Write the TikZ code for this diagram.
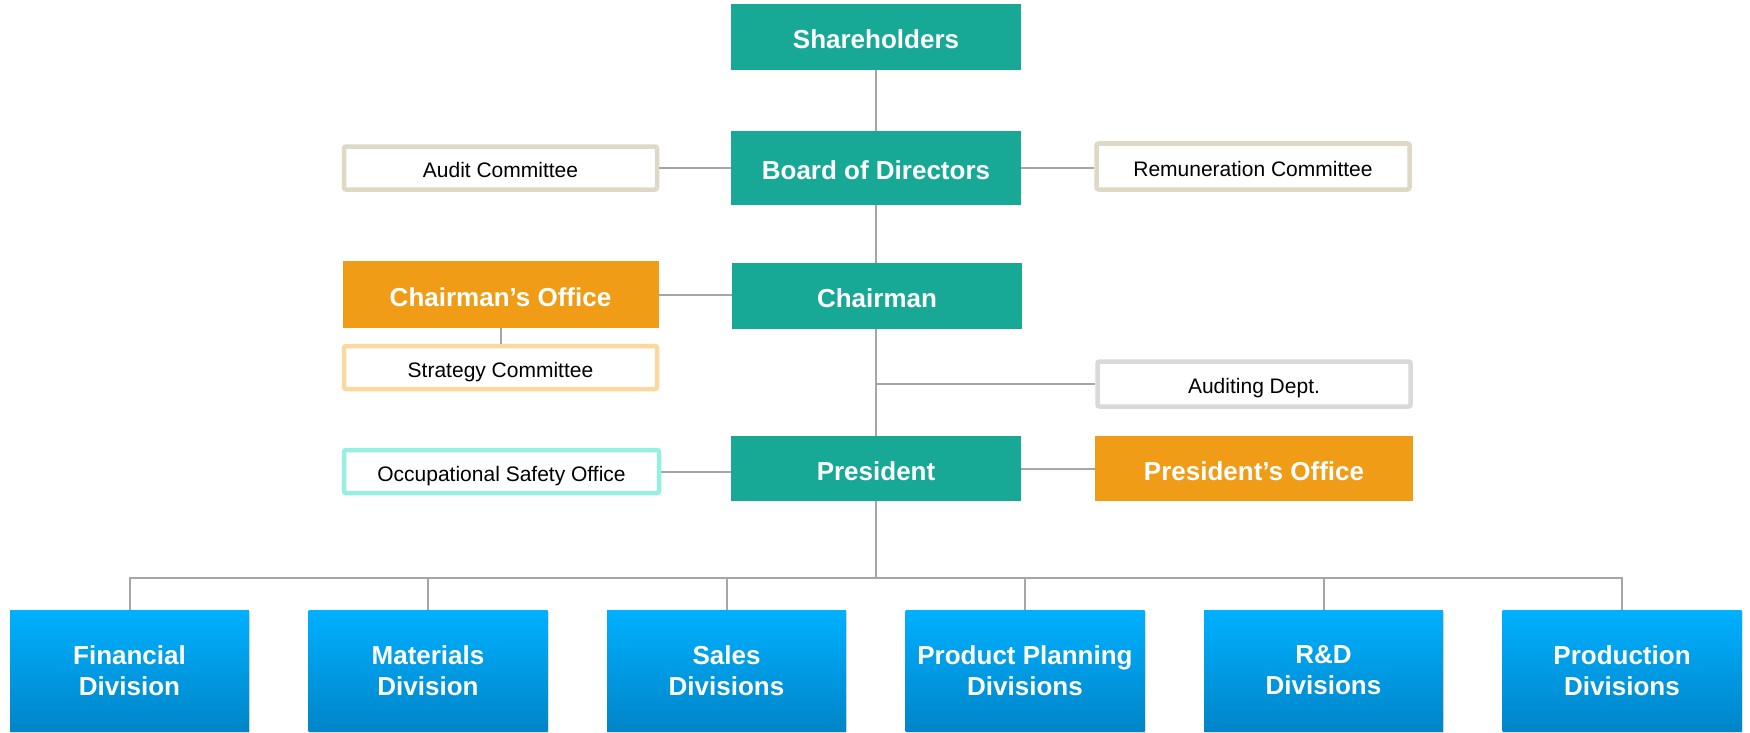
\documentclass[tikz,border=0pt]{standalone}
\usepackage{fontspec}
\setmainfont{Liberation Sans}
\usetikzlibrary{shadows}
\definecolor{tealc}{HTML}{17A996}
\definecolor{orangec}{HTML}{F19C16}
\definecolor{beigec}{HTML}{DDD9C4}
\definecolor{strc}{HTML}{FAD8A0}
\definecolor{grayc}{HTML}{D9D9D9}
\definecolor{aquac}{HTML}{95F0E2}
\definecolor{linec}{HTML}{A6A6A6}
\definecolor{bluetop}{HTML}{00B0FF}
\definecolor{bluebot}{HTML}{0085C8}
\tikzset{
  bigfont/.style={font=\fontsize{26}{31}\selectfont\bfseries},
  tealbox/.style={fill=tealc, text=white, bigfont, inner sep=0pt, minimum width=290pt, minimum height=#1,
    text height=23pt, text depth=0pt},
  orangebox/.style={fill=orangec, text=white, bigfont, inner sep=0pt, minimum width=316pt, minimum height=66pt,
    text height=23pt, text depth=0pt},
  outbox/.style={draw=#1, line width=4.5pt, fill=white, rounded corners=2pt, inner sep=0pt,
    minimum width=313pt, minimum height=43pt, font=\fontsize{21}{25}\selectfont,
    text height=19pt, text depth=0pt},
  divbox/.style={top color=bluetop, bottom color=bluebot, text=white, bigfont, align=center,
    inner sep=0pt, minimum width=239pt, minimum height=121pt,
    drop shadow={shadow xshift=1pt, shadow yshift=-1.5pt, opacity=0.25}},
  conn/.style={draw=linec, line width=2pt},
}
\begin{document}
\begin{tikzpicture}[x=1pt, y=-1pt]
\useasboundingbox (0,0) rectangle (1750,733);
\node[tealbox=66pt] (sh) at (876,37) {Shareholders};
\node[tealbox=74pt] (bod) at (876,168) {Board of Directors};
\node[tealbox=66pt] (chair) at (877,296) {Chairman};
\node[tealbox=65pt] (pres) at (876,468.5) {President};
\node[outbox=beigec] (audit) at (500.5,168) {Audit Committee};
\node[outbox=beigec, minimum height=46pt] (remun) at (1253,166.5) {Remuneration Committee};
\node[orangebox, minimum height=67pt] (co) at (500.5,294.5) {Chairman’s Office};
\node[outbox=strc] (strat) at (500.5,367.5) {Strategy Committee};
\node[outbox=grayc, minimum height=45pt] (adept) at (1254,384) {Auditing Dept.};
\node[outbox=aquac, minimum width=315pt] (oso) at (501.5,471.5) {Occupational Safety Office};
\node[orangebox, minimum height=65pt, minimum width=318pt] (po) at (1254,468.5) {President’s Office};

\node[divbox] (d1) at (129.5,670.5) {Financial\\Division};
\node[divbox] (d2) at (428,670.5) {Materials\\Division};
\node[divbox] (d3) at (726.5,670.5) {Sales\\Divisions};
\node[divbox] (d4) at (1025,670.5) {Product Planning\\Divisions};
\node[divbox] (d5) at (1323.5,670.5) {R\&D\\Divisions};
\node[divbox] (d6) at (1622,670.5) {Production\\Divisions};

\coordinate (bus) at (876,578);
\draw[conn] (sh.south) -- (bod.north);
\draw[conn] (bod.south) -- (bod.south |- chair.north);
\draw[conn] (bod.south |- chair.south) -- (pres.north);
\draw[conn] (audit.east) -- (audit.east -| bod.west);
\draw[conn] (bod.east) -- (bod.east -| remun.west);
\draw[conn] (co.east) -- (co.east -| chair.west);
\draw[conn] (co.south) -- (strat.north);
\draw[conn] (pres.north |- adept.west) -- (adept.west);
\draw[conn] (oso.east) -- (oso.east -| pres.west);
\draw[conn] (pres.east) -- (pres.east -| po.west);
\draw[conn] (pres.south) -- (bus);
\draw[conn] (d1.north) |- (bus) -| (d6.north);
\foreach \d in {d2,d3,d4,d5} {\draw[conn] (\d.north) -- (\d.north |- bus);}
\end{tikzpicture}
\end{document}
